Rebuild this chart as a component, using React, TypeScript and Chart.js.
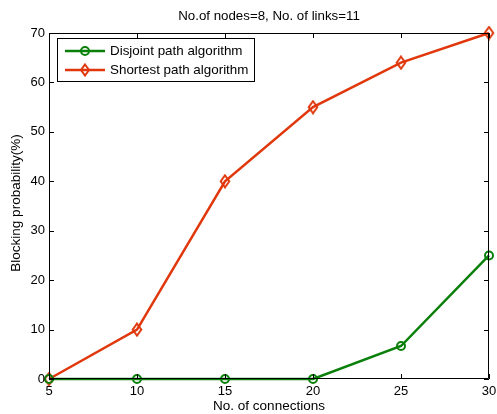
import React, { useEffect, useRef } from "react";
import { Chart, registerables } from "chart.js";

Chart.register(...registerables);

const connections = [5, 10, 15, 20, 25, 30];
const disjointValues = [0, 0, 0, 0, 6.67, 25];
const shortestValues = [0, 10, 40, 55, 64, 70];
const xTicks = [5, 10, 15, 20, 25, 30];
const yTicks = [0, 10, 20, 30, 40, 50, 60, 70];
const seriesLabels = ["Disjoint path algorithm", "Shortest path algorithm"];
const titleText = "No.of nodes=8, No. of links=11";
const xLabel = "No. of connections";
const yLabel = "Blocking probability(%)";

const GREEN = "#0a800a";
const RED = "#e0380c";
const FONT = "Arial, 'Liberation Sans', sans-serif";

const decorPlugin = {
  id: "matlabDecor",
  afterDraw(chart: any) {
    const { ctx, chartArea } = chart;
    const { left, right, top, bottom } = chartArea;
    const xs = chart.scales.x;
    const ys = chart.scales.y;
    ctx.save();
    ctx.strokeStyle = "#000";
    ctx.lineWidth = 1;
    ctx.beginPath();
    ctx.rect(left + 0.5, top + 0.5, right - left - 1, bottom - top - 1);
    ctx.stroke();
    const tl = 5;
    ctx.beginPath();
    xTicks.forEach((v) => {
      const px = Math.round(xs.getPixelForValue(v)) + 0.5;
      ctx.moveTo(px, bottom);
      ctx.lineTo(px, bottom - tl);
      ctx.moveTo(px, top);
      ctx.lineTo(px, top + tl);
    });
    yTicks.forEach((v) => {
      const py = Math.round(ys.getPixelForValue(v)) + 0.5;
      ctx.moveTo(left, py);
      ctx.lineTo(left + tl, py);
      ctx.moveTo(right, py);
      ctx.lineTo(right - tl, py);
    });
    ctx.stroke();

    // tick labels
    ctx.fillStyle = "#000";
    ctx.font = `13px ${FONT}`;
    ctx.textAlign = "center";
    ctx.textBaseline = "middle";
    xTicks.forEach((v) => {
      ctx.fillText(String(v), xs.getPixelForValue(v), bottom + 12);
    });
    ctx.textAlign = "right";
    yTicks.forEach((v) => {
      ctx.fillText(String(v), left - 4, ys.getPixelForValue(v));
    });

    // title
    ctx.font = `13.3px ${FONT}`;
    ctx.textAlign = "center";
    ctx.fillText(titleText, (left + right) / 2, 16);
    // x label
    ctx.font = `13.5px ${FONT}`;
    ctx.fillText(xLabel, (left + right) / 2, 406);
    // y label
    ctx.save();
    ctx.translate(16, (top + bottom) / 2 - 3);
    ctx.rotate(-Math.PI / 2);
    ctx.fillText(yLabel, 0, 0);
    ctx.restore();

    // legend
    const lx = left + 8;
    const ly = top + 5;
    const lw = 197;
    const lh = 43;
    ctx.fillStyle = "#fff";
    ctx.fillRect(lx, ly, lw, lh);
    ctx.strokeStyle = "#000";
    ctx.lineWidth = 1;
    ctx.strokeRect(lx + 0.5, ly + 0.5, lw, lh);
    const ds = chart.data.datasets;
    const rows = [ly + 13, ly + 32];
    ds.forEach((d: any, i: number) => {
      const y = rows[i];
      ctx.strokeStyle = d.borderColor;
      ctx.lineWidth = 2.5;
      ctx.beginPath();
      ctx.moveTo(lx + 8, y);
      ctx.lineTo(lx + 48, y);
      ctx.stroke();
      ctx.lineWidth = 2;
      const cx = lx + 28;
      ctx.beginPath();
      if (i === 0) {
        ctx.arc(cx, y, 4, 0, Math.PI * 2);
      } else {
        ctx.moveTo(cx, y - 5.5);
        ctx.lineTo(cx + 4, y);
        ctx.lineTo(cx, y + 5.5);
        ctx.lineTo(cx - 4, y);
        ctx.closePath();
      }
      ctx.stroke();
      ctx.fillStyle = "#000";
      ctx.font = `13.4px ${FONT}`;
      ctx.textAlign = "left";
      ctx.textBaseline = "middle";
      ctx.fillText(d.label, lx + 53, y);
    });
    ctx.restore();
  },
};

export default function App() {
  const ref = useRef<HTMLCanvasElement>(null);
  useEffect(() => {
    document.body.style.margin = "0";
    const diamond = document.createElement("canvas");
    diamond.width = 12;
    diamond.height = 15;
    const dctx = diamond.getContext("2d")!;
    dctx.strokeStyle = RED;
    dctx.lineWidth = 2;
    dctx.beginPath();
    dctx.moveTo(6, 1.5);
    dctx.lineTo(10.3, 7.5);
    dctx.lineTo(6, 13.5);
    dctx.lineTo(1.7, 7.5);
    dctx.closePath();
    dctx.stroke();

    const chart = new Chart(ref.current!, {
      type: "line",
      data: {
        datasets: [
          {
            label: seriesLabels[0],
            data: connections.map((x, i) => ({ x, y: disjointValues[i] })),
            borderColor: GREEN,
            backgroundColor: "rgba(0,0,0,0)",
            borderWidth: 2.5,
            pointStyle: "circle",
            pointRadius: 4,
            pointBorderWidth: 2,
            pointBorderColor: GREEN,
            pointBackgroundColor: "rgba(0,0,0,0)",
            clip: false as any,
          },
          {
            label: seriesLabels[1],
            data: connections.map((x, i) => ({ x, y: shortestValues[i] })),
            borderColor: RED,
            backgroundColor: "rgba(0,0,0,0)",
            borderWidth: 2.5,
            pointStyle: diamond as any,
            pointRadius: 5,
            pointBorderColor: RED,
            pointBackgroundColor: "rgba(0,0,0,0)",
            clip: false as any,
          },
        ],
      },
      options: {
        animation: false,
        responsive: false,
        maintainAspectRatio: false,
        layout: { padding: { top: 33, right: 8, left: 0, bottom: 0 } },
        plugins: {
          legend: { display: false },
          title: { display: false },
          tooltip: { enabled: false },
        },
        scales: {
          x: {
            type: "linear",
            min: 5,
            max: 30,
            afterFit: (s: any) => {
              s.height = 35;
            },
            grid: { display: false },
            border: { display: false },
            ticks: { display: false },
          },
          y: {
            type: "linear",
            min: 0,
            max: 70,
            afterFit: (s: any) => {
              s.width = 49;
            },
            grid: { display: false },
            border: { display: false },
            ticks: { display: false },
          },
        },
      },
      plugins: [decorPlugin],
    });
    return () => chart.destroy();
  }, []);
  return (
    <div style={{ width: 497, height: 414, background: "#fff" }}>
      <canvas ref={ref} width={497} height={414} />
    </div>
  );
}
